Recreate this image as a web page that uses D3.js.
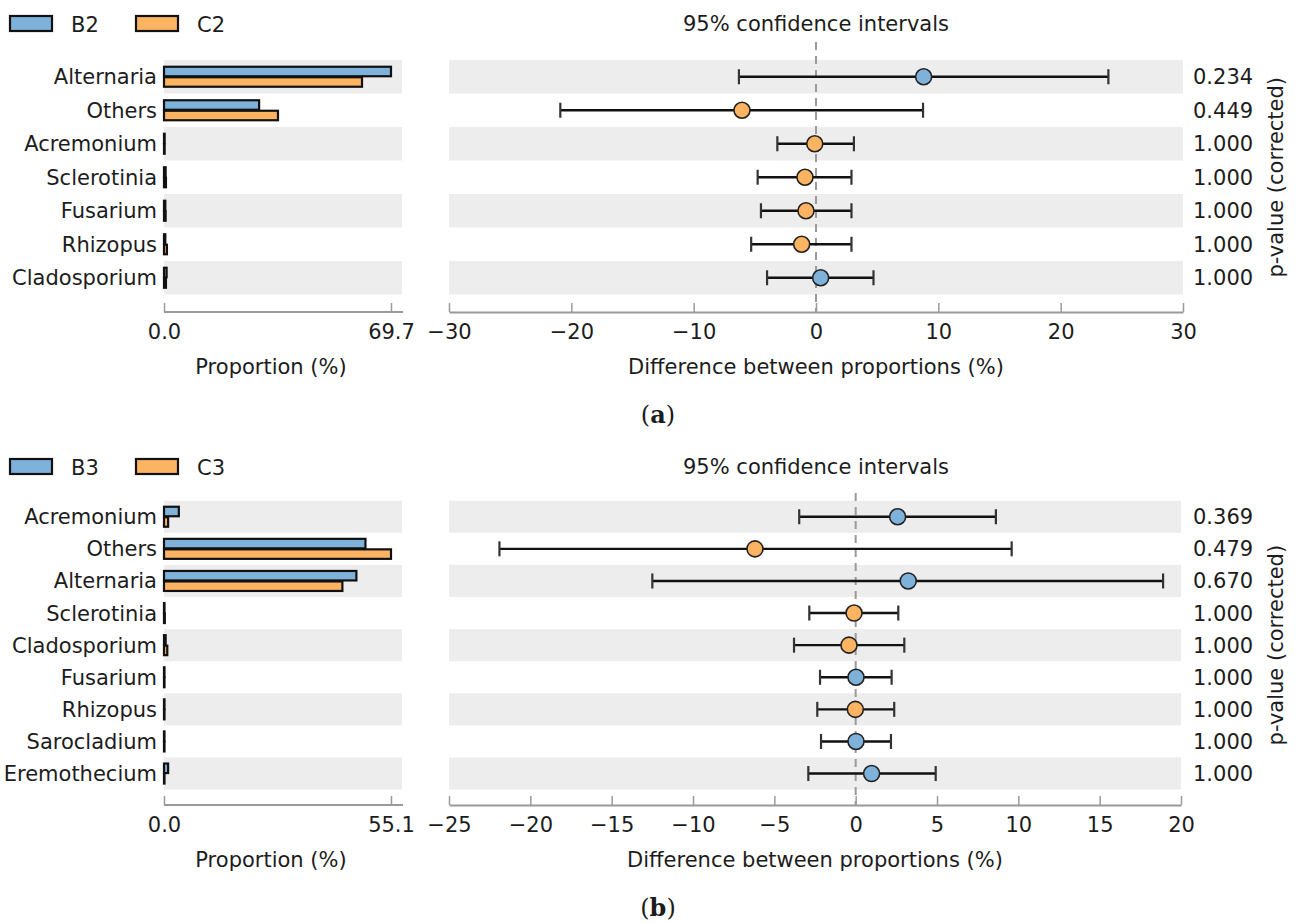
<!DOCTYPE html>
<html>
<head>
<meta charset="utf-8">
<script src="https://cdn.jsdelivr.net/npm/d3@7"></script>
<style>
  body { margin: 0; background: #fff; }
  svg text { font-family: "DejaVu Sans", sans-serif; fill: #1c1c1c; }
</style>
</head>
<body>
<div id="chart"></div>
<script>
// ---- panel (a) ----
const taxaA = ["Alternaria", "Others", "Acremonium", "Sclerotinia", "Fusarium", "Rhizopus", "Cladosporium"];
const groupsA = ["B2", "C2"];
const propB2 = [69.7, 29.2, 0.2, 0.5, 0.4, 0.4, 0.8];
const propC2 = [60.8, 35.0, 0.2, 0.6, 0.5, 0.9, 0.6];
const diffA = [8.8, -6.05, -0.1, -0.9, -0.82, -1.17, 0.38];
const ciLowA = [-6.3, -20.9, -3.16, -4.77, -4.5, -5.3, -4.0];
const ciHighA = [23.9, 8.75, 3.1, 2.9, 2.9, 2.9, 4.7];
const pValA = ["0.234", "0.449", "1.000", "1.000", "1.000", "1.000", "1.000"];
const diffTicksA = [-30, -20, -10, 0, 10, 20, 30];
const propMaxA = 69.7;

// ---- panel (b) ----
const taxaB = ["Acremonium", "Others", "Alternaria", "Sclerotinia", "Cladosporium", "Fusarium", "Rhizopus", "Sarocladium", "Eremothecium"];
const groupsB = ["B3", "C3"];
const propB3 = [3.6, 48.9, 46.7, 0.1, 0.4, 0.05, 0.05, 0.05, 1.0];
const propC3 = [1.0, 55.1, 43.3, 0.2, 0.8, 0.05, 0.1, 0.03, 0.05];
const diffB = [2.58, -6.19, 3.23, -0.1, -0.41, 0.02, -0.02, 0.02, 0.98];
const ciLowB = [-3.47, -21.9, -12.5, -2.85, -3.79, -2.19, -2.36, -2.13, -2.91];
const ciHighB = [8.62, 9.59, 18.9, 2.62, 2.99, 2.21, 2.37, 2.17, 4.92];
const pValB = ["0.369", "0.479", "0.670", "1.000", "1.000", "1.000", "1.000", "1.000", "1.000"];
const diffTicksB = [-25, -20, -15, -10, -5, 0, 5, 10, 15, 20];
const propMaxB = 55.1;

const BLUE = "#7fb2db";
const ORANGE = "#fdb462";
const BAND = "#ededed";
const AXIS = "#9a9a9a";
const FS = 21;

const svg = d3.select("#chart").append("svg")
    .attr("width", 1298)
    .attr("height", 923);

function drawPanel(p) {
    const g = svg.append("g");
    const n = p.taxa.length;

    // legend
    p.groups.forEach(function(name, i) {
        const lx = 10 + i * 126;
        g.append("rect")
            .attr("x", lx).attr("y", p.legendY - 8)
            .attr("width", 42).attr("height", 15)
            .attr("fill", i === 0 ? BLUE : ORANGE)
            .attr("stroke", "#111").attr("stroke-width", 2.2);
        g.append("text")
            .attr("x", lx + 61).attr("y", p.legendY + 8)
            .style("font-size", FS + "px")
            .text(name);
    });

    // title
    g.append("text")
        .attr("x", 816).attr("y", p.legendY + 7)
        .attr("text-anchor", "middle")
        .style("font-size", FS + "px")
        .text("95% confidence intervals");

    const y = d3.scaleBand()
        .domain(p.taxa)
        .range([p.bandTop, p.bandTop + n * p.pitch]);

    const xp = d3.scaleLinear().domain([0, p.propMax]).range([164, 391]);
    const xd = d3.scaleLinear().domain([p.diffTicks[0], p.diffTicks[p.diffTicks.length - 1]]).range([449, p.diffRight]);

    // background bands
    p.taxa.forEach(function(t, i) {
        if (i % 2 !== 0) return;
        g.append("rect")
            .attr("x", 164).attr("y", y(t))
            .attr("width", 402 - 164).attr("height", y.bandwidth())
            .attr("fill", BAND);
        g.append("rect")
            .attr("x", xd.range()[0]).attr("y", y(t))
            .attr("width", xd.range()[1] - xd.range()[0]).attr("height", y.bandwidth())
            .attr("fill", BAND);
    });

    // row labels
    g.selectAll(".rowlab")
        .data(p.taxa)
        .enter().append("text")
        .attr("x", 157)
        .attr("y", function(d) { return y(d) + y.bandwidth() / 2 + 7.5; })
        .attr("text-anchor", "end")
        .style("font-size", FS + "px")
        .text(function(d) { return d; });

    // proportion bars
    [p.propA, p.propB].forEach(function(vals, k) {
        g.selectAll(".bar" + k)
            .data(p.taxa)
            .enter().append("rect")
            .attr("x", xp(0))
            .attr("y", function(d) { return y(d) + y.bandwidth() / 2 + (k === 0 ? -10 : 0.5); })
            .attr("width", function(d, i) { return Math.max(xp(vals[i]) - xp(0), 0.5); })
            .attr("height", 9.5)
            .attr("fill", k === 0 ? BLUE : ORANGE)
            .attr("stroke", "#111").attr("stroke-width", 2.2);
    });

    // left axis
    const axL = g.append("g")
        .attr("transform", "translate(0," + p.axisY + ")")
        .call(d3.axisBottom(xp).tickValues([0, p.propMax]).tickFormat(d3.format(".1f"))
            .tickSizeInner(-9).tickSizeOuter(0).tickPadding(12));
    axL.select(".domain").remove();
    axL.append("line").attr("x1", 164).attr("x2", 403).attr("stroke", AXIS).attr("stroke-width", 2);
    axL.selectAll(".tick line").attr("stroke", AXIS).attr("stroke-width", 1.5);
    axL.selectAll(".tick text").style("font-size", FS + "px").attr("fill", "#1c1c1c");

    g.append("text")
        .attr("x", 271).attr("y", p.axisY + 62)
        .attr("text-anchor", "middle")
        .style("font-size", FS + "px")
        .text("Proportion (%)");

    // right axis
    const axR = g.append("g")
        .attr("transform", "translate(0," + p.axisY + ")")
        .call(d3.axisBottom(xd).tickValues(p.diffTicks)
            .tickSizeInner(-9).tickSizeOuter(0).tickPadding(12));
    axR.select(".domain").attr("stroke", AXIS).attr("stroke-width", 2);
    axR.selectAll(".tick line").attr("stroke", AXIS).attr("stroke-width", 1.5);
    axR.selectAll(".tick text").style("font-size", FS + "px").attr("fill", "#1c1c1c");

    g.append("text")
        .attr("x", (xd.range()[0] + xd.range()[1]) / 2).attr("y", p.axisY + 62)
        .attr("text-anchor", "middle")
        .style("font-size", FS + "px")
        .text("Difference between proportions (%)");

    // zero line
    g.append("line")
        .attr("x1", xd(0)).attr("x2", xd(0))
        .attr("y1", p.zeroTop).attr("y2", p.axisY)
        .attr("stroke", AXIS).attr("stroke-width", 2)
        .attr("stroke-dasharray", "8,6");

    // confidence intervals
    const ci = g.selectAll(".ci")
        .data(p.taxa)
        .enter().append("g")
        .attr("transform", function(d) { return "translate(0," + (y(d) + y.bandwidth() / 2) + ")"; });

    ci.append("line")
        .attr("x1", function(d, i) { return xd(p.lo[i]); })
        .attr("x2", function(d, i) { return xd(p.hi[i]); })
        .attr("stroke", "#111").attr("stroke-width", 2.4);
    ci.append("line")
        .attr("x1", function(d, i) { return xd(p.lo[i]); })
        .attr("x2", function(d, i) { return xd(p.lo[i]); })
        .attr("y1", -7.5).attr("y2", 7.5)
        .attr("stroke", "#333").attr("stroke-width", 2.2);
    ci.append("line")
        .attr("x1", function(d, i) { return xd(p.hi[i]); })
        .attr("x2", function(d, i) { return xd(p.hi[i]); })
        .attr("y1", -7.5).attr("y2", 7.5)
        .attr("stroke", "#333").attr("stroke-width", 2.2);
    ci.append("circle")
        .attr("cx", function(d, i) { return xd(p.diff[i]); })
        .attr("r", 8)
        .attr("fill", function(d, i) { return p.diff[i] > 0 ? BLUE : ORANGE; })
        .attr("stroke", "#222").attr("stroke-width", 1.6);

    // p-values
    g.selectAll(".pval")
        .data(p.pvals)
        .enter().append("text")
        .attr("x", 1193)
        .attr("y", function(d, i) { return y(p.taxa[i]) + y.bandwidth() / 2 + 7.5; })
        .style("font-size", FS + "px")
        .text(function(d) { return d; });

    const midY = p.bandTop + n * p.pitch / 2;
    g.append("text")
        .attr("transform", "translate(1283," + midY + ") rotate(-90)")
        .attr("text-anchor", "middle")
        .style("font-size", FS + "px")
        .text("p-value (corrected)");

    // caption
    const cap = g.append("text")
        .attr("x", 658).attr("y", p.axisY + 111)
        .attr("text-anchor", "middle")
        .style("font-family", "'DejaVu Serif', 'Liberation Serif', serif")
        .style("font-size", "24px");
    cap.append("tspan").text("(");
    cap.append("tspan").style("font-weight", "bold").text(p.caption);
    cap.append("tspan").text(")");
}

drawPanel({
    taxa: taxaA, groups: groupsA, propA: propB2, propB: propC2,
    diff: diffA, lo: ciLowA, hi: ciHighA, pvals: pValA,
    diffTicks: diffTicksA, propMax: propMaxA,
    legendY: 24, bandTop: 60, pitch: 33.5, axisY: 312, zeroTop: 42, diffRight: 1183,
    caption: "a"
});

drawPanel({
    taxa: taxaB, groups: groupsB, propA: propB3, propB: propC3,
    diff: diffB, lo: ciLowB, hi: ciHighB, pvals: pValB,
    diffTicks: diffTicksB, propMax: propMaxB,
    legendY: 467, bandTop: 500.7, pitch: 32.1, axisY: 805, zeroTop: 493, diffRight: 1181,
    caption: "b"
});
</script>
</body>
</html>
